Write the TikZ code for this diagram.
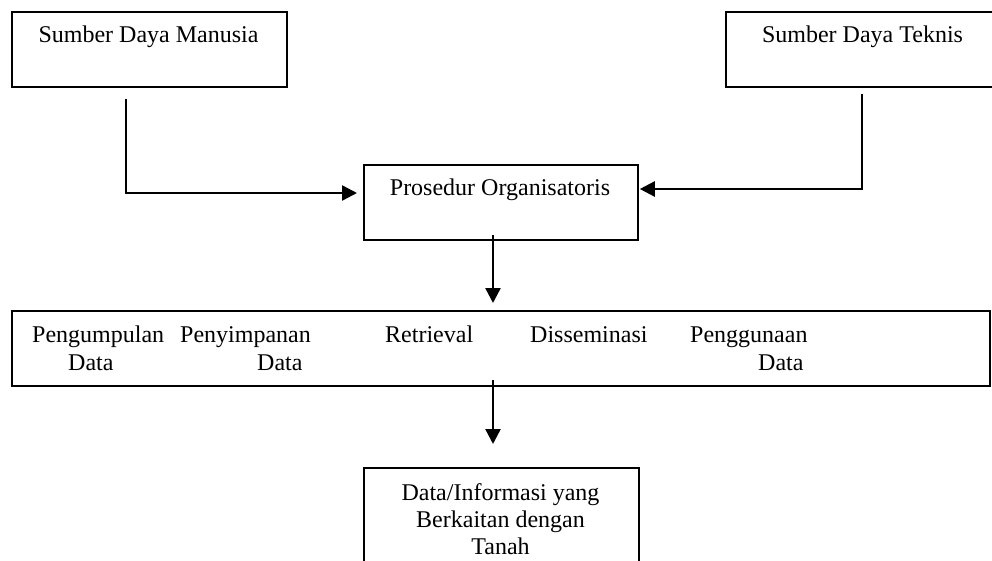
\documentclass[tikz,border=0pt]{standalone}
\usepackage{fontspec}
\setmainfont{Liberation Serif}
\usetikzlibrary{arrows.meta,calc}
\begin{document}
\begin{tikzpicture}[x=1pt,y=-1pt,
  boxline/.style={draw=black,line width=1.8pt},
  lbl/.style={inner sep=0pt,anchor=base,font=\fontsize{24}{27.5}\selectfont},
  lblw/.style={inner sep=0pt,anchor=base west,font=\fontsize{24}{27.5}\selectfont},
  conn/.style={line width=2.4pt,-{Triangle[length=15pt,width=15pt]}}]
\clip (0,0) rectangle (992,561);
\fill[white] (0,0) rectangle (992,561);
% boxes
\node[boxline,inner sep=0pt,minimum width=275pt,minimum height=75pt,anchor=north west] (smd) at (11,11) {};
\node[boxline,inner sep=0pt,minimum width=276pt,minimum height=75pt,anchor=north west] (sdt) at (725,11) {};
\node[boxline,inner sep=0pt,minimum width=274pt,minimum height=75pt,anchor=north west] (pro) at (363,164) {};
\node[boxline,inner sep=0pt,minimum width=978pt,minimum height=75pt,anchor=north west] (proc) at (11,310) {};
\node[boxline,inner sep=0pt,minimum width=275pt,minimum height=130pt,anchor=north west] (out) at (363,467) {};
% texts
\node[lbl] (t1) at (148.5,43) {Sumber Daya Manusia};
\node[lbl] (t2) at (862.5,43) {Sumber Daya Teknis};
\node[lbl] (t3) at (500,196) {Prosedur Organisatoris};
\node[lblw] (p1) at (32,342) {Pengumpulan};
\node[lblw] (p1b) at (68,370) {Data};
\node[lblw] (p2) at (180,342) {Penyimpanan};
\node[lblw] (p2b) at (257,370) {Data};
\node[lblw] (p3) at (385,342) {Retrieval};
\node[lblw] (p4) at (530,342) {Disseminasi};
\node[lblw] (p5) at (690,342) {Penggunaan};
\node[lblw] (p5b) at (758,370) {Data};
\node[lbl] (o1) at (500.5,500) {Data/Informasi yang};
\node[lbl] (o2) at (500.5,527) {Berkaitan dengan};
\node[lbl] (o3) at (500.5,554) {Tanah};
% connectors
\coordinate (s1) at ($(smd.south west)+(115,11)$);
\coordinate (e1) at ($(pro.north west)+(-6,29)$);
\draw[conn] (s1) |- (e1);
\coordinate (s2) at ($(sdt.south west)+(137,6)$);
\coordinate (e2) at ($(pro.north east)+(1,25)$);
\draw[conn] (s2) |- (e2);
\coordinate (s3) at ($(pro.south west)+(130,-6)$);
\coordinate (e3) at ($(proc.north west)+(482,-7)$);
\draw[conn] (s3) -- (e3);
\coordinate (s4) at ($(proc.south west)+(482,-7)$);
\coordinate (e4) at ($(out.north west)+(130,-23)$);
\draw[conn] (s4) -- (e4);
\end{tikzpicture}
\end{document}
